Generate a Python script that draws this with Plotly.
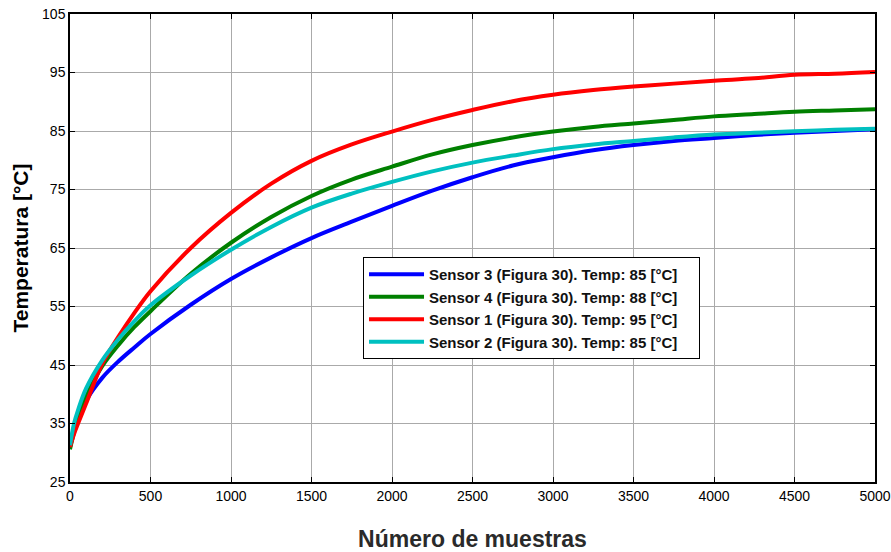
import plotly.graph_objects as go

samples = [0, 25, 50, 100, 200, 300, 400, 500, 750, 1000, 1250, 1500, 1750, 2000, 2250, 2500,
           2750, 3000, 3250, 3500, 3750, 4000, 4250, 4500, 4750, 5000]

sensor3 = [31.0, 33.8, 35.6, 38.9, 42.8, 45.6, 48.0, 50.3, 55.3, 59.7, 63.4, 66.7, 69.5, 72.2, 74.8, 77.1,
           79.1, 80.5, 81.7, 82.6, 83.3, 83.8, 84.3, 84.7, 85.0, 85.3]
sensor4 = [30.6, 33.5, 35.9, 39.6, 44.8, 48.4, 51.5, 54.2, 60.6, 65.9, 70.3, 73.9, 76.7, 78.9, 81.0, 82.6,
           83.9, 84.9, 85.7, 86.3, 86.9, 87.5, 87.9, 88.3, 88.5, 88.7]
sensor1 = [31.0, 33.2, 35.0, 38.4, 45.2, 49.8, 53.9, 57.6, 65.0, 71.0, 76.0, 79.9, 82.7, 84.9, 86.9, 88.6,
           90.1, 91.2, 92.0, 92.6, 93.1, 93.6, 94.0, 94.6, 94.8, 95.1]
sensor2 = [31.3, 35.0, 37.3, 41.0, 45.8, 49.4, 52.5, 55.2, 60.3, 64.7, 68.6, 71.9, 74.3, 76.3, 78.1, 79.6,
           80.8, 81.9, 82.7, 83.3, 83.9, 84.4, 84.7, 84.95, 85.2, 85.4]

names = [
    "Sensor 3 (Figura 30). Temp: 85 [°C]",
    "Sensor 4 (Figura 30). Temp: 88 [°C]",
    "Sensor 1 (Figura 30). Temp: 95 [°C]",
    "Sensor 2 (Figura 30). Temp: 85 [°C]",
]
series = [sensor3, sensor4, sensor1, sensor2]
colors = ["#0000ff", "#008000", "#ff0000", "#00c0c0"]

x_ticks = [0, 500, 1000, 1500, 2000, 2500, 3000, 3500, 4000, 4500, 5000]
y_ticks = [25, 35, 45, 55, 65, 75, 85, 95, 105]

fig = go.Figure()
for name, ys, c in zip(names, series, colors):
    fig.add_trace(go.Scatter(
        x=samples, y=ys, name=name + "\u00a0\u00a0\u00a0\u00a0", mode="lines",
        line=dict(color=c, width=4, shape="spline", smoothing=1.0),
    ))

axis_common = dict(
    showline=True, linecolor="black", linewidth=1.5, mirror="ticks",
    ticks="inside", ticklen=5, tickcolor="black",
    showgrid=True, gridcolor="#aaaaaa", gridwidth=1,
    zeroline=False, automargin=False,
    tickfont=dict(family="Liberation Sans, Arial", size=14, color="black"),
)

fig.update_layout(
    width=891, height=552,
    paper_bgcolor="white", plot_bgcolor="white",
    margin=dict(l=70, r=16, t=14, b=70),
    xaxis=dict(
        range=[0, 5000], tickvals=x_ticks,
        title=dict(text="Número de muestras", standoff=30,
                   font=dict(family="Liberation Sans Narrow, Liberation Sans, Arial", size=23, color="#2a2a2a", weight="bold")),
        **axis_common,
    ),
    yaxis=dict(
        range=[25, 105], tickvals=y_ticks,
        title=dict(text="Temperatura [°C]", standoff=8,
                   font=dict(family="Liberation Sans, Arial", size=21, color="black", weight="bold")),
        **axis_common,
    ),
    legend=dict(
        x=0.364, y=0.481, xanchor="left", yanchor="top",
        bgcolor="white", bordercolor="black", borderwidth=1,
        font=dict(family="Liberation Sans, Arial", size=15, color="#111111", weight="bold"),
        itemwidth=55, tracegroupgap=0,
    ),
    showlegend=True,
)

fig.write_html("out.html")
